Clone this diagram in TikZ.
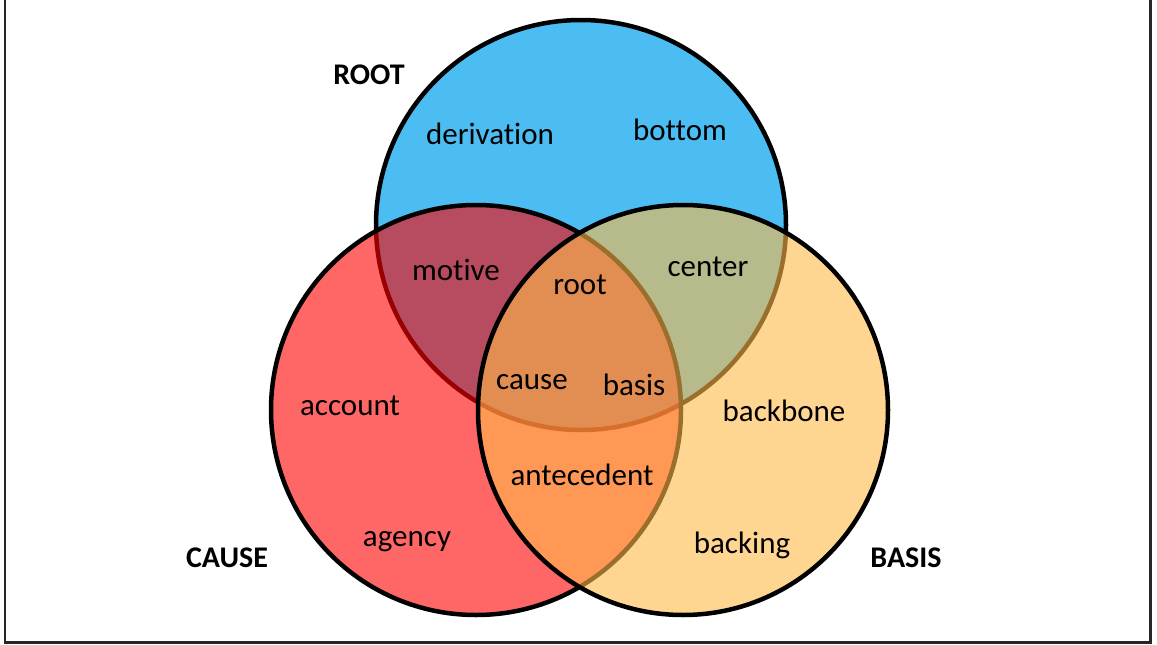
\documentclass[tikz,border=0pt]{standalone}
\usepackage{fontspec}
\setmainfont{Carlito}[Ligatures=NoCommon]
\begin{document}
\begin{tikzpicture}[x=1pt,y=-1pt,
  word/.style={anchor=base,inner sep=0pt,font=\fontsize{31}{36}\selectfont},
  title/.style={anchor=base,inner sep=0pt,font=\fontsize{30}{36}\selectfont\bfseries},
  ring/.style={draw=black,line width=4.5pt}]
\useasboundingbox (0,0) rectangle (1157,645);
\definecolor{cblue}{RGB}{75,189,242}
\definecolor{cred}{RGB}{255,0,0}
\definecolor{cyel}{RGB}{255,186,72}
% frame (no top side)
\draw[line width=2.6pt,draw=black!85] (5,-5) -- (5,642.5) -- (1150.5,642.5) -- (1150.5,-5);
% circles
\coordinate (cb) at (581,225);
\coordinate (cr) at (476,410);
\coordinate (cy) at (683,410);
\path[ring,fill=cblue] (cb) circle[radius=205];
\path[ring,fill=cred,fill opacity=0.6] (cr) circle[radius=205];
\path[ring,fill=cyel,fill opacity=0.6] (cy) circle[radius=205];
% labels
\node[title] (tROOT) at (369,84) {ROOT};
\node[title] (tCAUSE) at (227,567) {CAUSE};
\node[title] (tBASIS) at (906,567) {BASIS};
\node[word] (derivation) at (490,144) {derivation};
\node[word] (bottom) at (680,140) {bottom};
\node[word] (motive) at (456,280) {motive};
\node[word] (root) at (580,294) {root};
\node[word] (center) at (708,276.5) {center};
\node[word] (cause) at (532,389) {cause};
\node[word] (basis) at (634,395) {basis};
\node[word] (account) at (350,415.5) {account};
\node[word] (backbone) at (784,421.5) {backbone};
\node[word] (antecedent) at (582,485) {antecedent};
\node[word] (agency) at (407,546) {agency};
\node[word] (backing) at (742,553) {backing};
\end{tikzpicture}
\end{document}
